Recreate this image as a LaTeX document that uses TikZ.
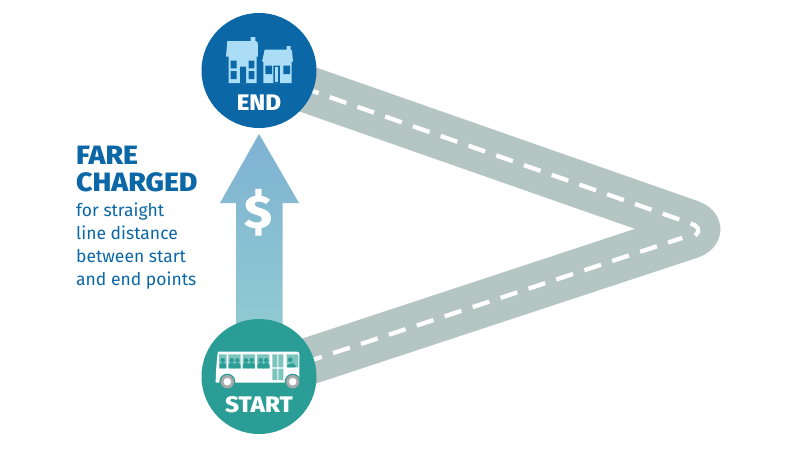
\documentclass[tikz,border=0pt]{standalone}
\usepackage{fontspec}
\setmainfont{Fira Sans}
\newfontfamily\heavyfont[FakeStretch=1.073]{Fira Sans ExtraBold}
\usetikzlibrary{calc}
\definecolor{endblue}{HTML}{0B67A6}
\definecolor{startteal}{HTML}{2A9D96}
\definecolor{roadgrey}{HTML}{B4C5C3}
\definecolor{housepale}{HTML}{ABDDF7}
\definecolor{arrowtop}{HTML}{7FB2D3}
\definecolor{arrowbot}{HTML}{90CAD1}
\definecolor{buswin}{HTML}{7CC5BF}
\definecolor{wheelgrey}{HTML}{A9A9A9}
\tikzset{
  road/.style={draw=roadgrey,line width=47pt,line join=round,rounded corners=20pt},
  roaddash/.style={draw=white,line width=4.3pt,dash pattern=on 17.6pt off 11.8pt},
  badge/.style={circle,minimum size=115pt,inner sep=0pt},
  badgetext/.style={text=white,font=\heavyfont\fontsize{22.5}{22.5}\selectfont,inner sep=0pt},
  head/.style={text=endblue,font=\heavyfont\fontsize{26.5}{26.5}\selectfont,inner sep=0pt,anchor=base west},
  sub/.style={text=endblue,font=\fontsize{17.5}{17.5}\selectfont,inner sep=0pt,anchor=base west},
  person/.pic={
    \fill[startteal] (0,-8) circle (2.3pt);
    \fill[startteal] (-3.2,0) -- (-3.2,-3) arc (180:360:3.2pt and -2.6pt) -- (3.2,0) -- cycle;
  },
}
\begin{document}
\begin{tikzpicture}[x=1pt,y=-1pt]
\useasboundingbox (0,0) rectangle (800,450);
\fill[white] (0,0) rectangle (800,450);
% road
\coordinate (rs) at (259,377.6);
\coordinate (re) at (259,72.4);
\coordinate (ra) at (708,229.5);
\coordinate (ds) at (277.2,371.6);
\coordinate (dl) at (682.3,237.9);
\coordinate (du) at (679.3,219.5);
\coordinate (de) at (270,76.2);
\draw[road] (rs) -- (ra) -- (re);
\draw[roaddash] (ds) -- (dl);
\draw[roaddash] (du) -- (de);
\coordinate (ca) at (690.5,223.5);
\coordinate (cb) at (695,235.5);
\draw[draw=white,line width=4.3pt] (ca) .. controls (697,225.5) and (702,230) .. (cb);
% arrow
\shade[top color=arrowtop,bottom color=arrowbot]
  (259,134) -- (299,203) -- (282.5,203) -- (282.5,330) -- (236,330) -- (236,203) -- (220,203) -- cycle;
\node[text=white,font=\heavyfont\fontsize{47}{47}\selectfont,inner sep=0pt] (dollar) at (258.5,212.5) {\$};
% badges
\node[badge,fill=endblue] (endc) at (259,70.5) {};
\node[badge,fill=startteal] (startc) at (259,376.5) {};
\node[badgetext,anchor=base] (endt) at (259,110) {END};
\node[badgetext,anchor=base] (startt) at (259,412) {START};
% left house
\fill[housepale] (227.3,41) -- (250.7,41) -- (250.7,37) -- (255.3,37) -- (255.3,41) -- (257.7,42) -- (258,56.7) -- (256.7,56.7) -- (256.7,83) -- (228.7,83) -- (228.7,56.7) -- (226,56.7) -- cycle;
\fill[endblue] (230.7,60.7) rectangle (236.7,68.3) (230.7,71) rectangle (236.7,79)
  (248.7,60.7) rectangle (254.3,68.3) (248.7,71) rectangle (254.3,79)
  (240,66.7) rectangle (246,83);
% right house
\fill[housepale] (264.7,49.5) -- (286.5,49.5) -- (286.5,46) -- (290.7,46) -- (290.7,49.5) -- (292,51) -- (293,61.7) -- (291.7,61.7) -- (291.7,83) -- (263.3,83) -- (263.3,61.7) -- (262,61.7) -- cycle;
\fill[endblue] (265.3,65.7) rectangle (272,74) (283.3,65.7) rectangle (290,74)
  (273.3,65.7) rectangle (279.8,83);
\fill[housepale] (274.7,67) rectangle (278.4,81.5);
% bus
\fill[white] (218,351.7) -- (297,351.7) .. controls (299,351.7) and (299.5,353) .. (299.5,355) -- (299.3,382.7) -- (215.7,382.7) .. controls (215.7,375) and (216.5,360) .. (218,351.7) -- cycle;
\fill[buswin] (219,354.3) rectangle (226.7,368.3) (228.3,354.3) rectangle (240.7,368.3)
  (242.7,354.3) rectangle (255,368.3) (257,354.3) rectangle (269.3,368.3)
  (272.3,354.3) rectangle (277.3,367.3) (278.3,354.3) rectangle (283.3,367.3)
  (272.3,368.7) rectangle (277.3,380) (278.3,368.7) rectangle (283.3,380)
  (286.7,354.3) rectangle (298.3,367.3);
\foreach \px in {222.7,231.7,237.3,246,251.7,260.7,266.3}{
  \pic at (\px,368.3) {person};
}
\fill[startteal] (290.3,359.7) circle (2.3pt);
\fill[startteal] (287.3,367.3) -- (287.3,365) -- (293,363) -- (296,366.5) -- (294.5,367.3) -- cycle;
\foreach \wx in {227.3,292.7}{
  \fill[startteal] (\wx,381.7) circle (8pt);
  \fill[wheelgrey] (\wx,381.7) circle (6.7pt);
  \fill[white] (\wx,381.7) circle (3.8pt);
}
% text
\node[head] (t1) at (76,164) {FARE};
\node[head] (t2) at (76,191) {CHARGED};
\node[sub] (t3) at (76,216) {for straight};
\node[sub] (t4) at (76,239) {line distance};
\node[sub] (t5) at (76,262) {between start};
\node[sub] (t6) at (76,285) {and end points};
\end{tikzpicture}
\end{document}
